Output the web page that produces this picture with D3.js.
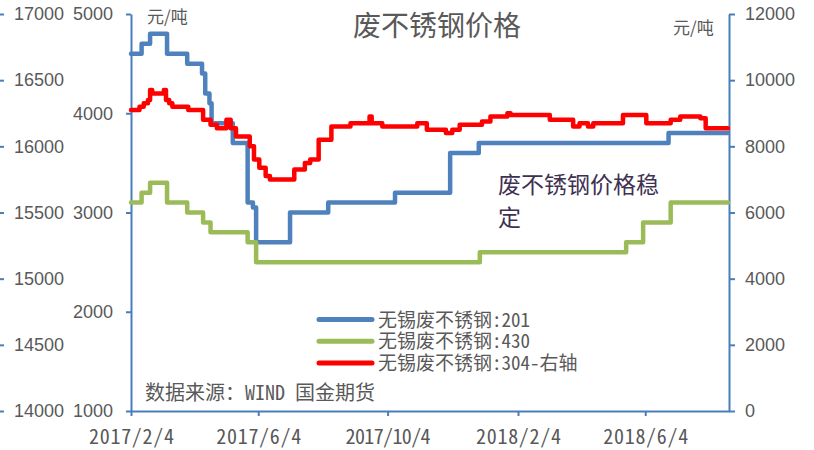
<!DOCTYPE html>
<html>
<head>
<meta charset="utf-8">
<script src="https://cdn.jsdelivr.net/npm/d3@7"></script>
<style>
  body { margin:0; background:#fff; }
  svg { display:block; }
</style>
</head>
<body>
<svg width="814" height="450"></svg>
<script>
// scrap stainless prices, Wuxi (yuan/ton)
const s201 = [
  ["2017/2/4",4600],["2017/2/14",4700],["2017/2/22",4800],["2017/3/10",4600],
  ["2017/3/29",4500],["2017/4/12",4400],["2017/4/15",4200],["2017/4/19",4100],
  ["2017/4/21",3900],["2017/5/11",3700],["2017/5/25",3100],["2017/5/30",3050],
  ["2017/6/2",2700],["2017/7/4",3000],["2017/8/9",3100],["2017/10/11",3200],
  ["2017/12/2",3600],["2017/12/29",3700],["2018/6/26",3800],["2018/8/21",3800]
];
const s430 = [
  ["2017/2/4",3100],["2017/2/14",3200],["2017/2/22",3300],["2017/3/10",3100],
  ["2017/3/29",3000],["2017/4/13",2900],["2017/4/20",2800],["2017/5/25",2700],
  ["2017/6/2",2500],["2017/12/30",2600],["2018/5/17",2700],["2018/6/2",2900],
  ["2018/6/28",3100],["2018/8/21",3100]
];
const s304 = [ // right axis
  ["2017/2/4",9100],["2017/2/12",9200],["2017/2/16",9300],["2017/2/20",9400],
  ["2017/2/22",9700],["2017/2/24",9600],["2017/3/7",9700],["2017/3/9",9400],
  ["2017/3/12",9300],["2017/3/15",9200],["2017/3/30",9100],["2017/4/13",8800],
  ["2017/4/20",8650],["2017/4/26",8550],["2017/5/5",8800],["2017/5/9",8550],
  ["2017/5/14",8300],["2017/5/27",8000],["2017/5/31",7600],["2017/6/5",7350],
  ["2017/6/11",7100],["2017/6/15",7000],["2017/7/8",7300],["2017/7/18",7500],
  ["2017/7/23",7600],["2017/7/31",8200],["2017/8/12",8600],["2017/8/30",8700],
  ["2017/9/17",8900],["2017/9/19",8700],["2017/9/29",8600],["2017/11/1",8700],
  ["2017/11/10",8500],["2017/11/28",8400],["2017/12/4",8500],["2017/12/11",8650],
  ["2018/1/1",8750],["2018/1/9",8900],["2018/1/25",9000],["2018/1/28",8950],
  ["2018/3/6",8800],["2018/3/28",8600],["2018/4/3",8700],["2018/4/11",8600],
  ["2018/4/16",8700],["2018/5/14",8950],["2018/6/5",8700],["2018/6/28",8800],
  ["2018/7/7",8900],["2018/7/26",8850],["2018/7/31",8550],["2018/8/21",8550]
];

const xTicks = ["2017/2/4","2017/6/4","2017/10/4","2018/2/4","2018/6/4"];
const xDomain = ["2017/2/4","2018/8/22"];
const outerTicks = [14000,14500,15000,15500,16000,16500,17000];
const leftTicks = [1000,2000,3000,4000,5000];
const rightTicks = [0,2000,4000,6000,8000,10000,12000];

const legendNames = ["无锡废不锈钢:201","无锡废不锈钢:430","无锡废不锈钢:304-右轴"];
const colors = ["#4F81BD","#9BBB59","#FF0000"];

const parse = d3.timeParse("%Y/%m/%d");
const axisColor = "#4A7EBB", textColor = "#595959";
const cjk = '"Noto Sans CJK SC", "Noto Sans", sans-serif';
const mono = '"Noto Sans Mono CJK SC", "Noto Sans CJK SC", sans-serif';
const latin = "'Liberation Sans', Arial, sans-serif";

const svg = d3.select("svg");
const yTop = 14, yBot = 411, xLeft = 131, xRight = 729;

const x = d3.scaleTime().domain(xDomain.map(parse)).range([xLeft, xRight]);
const yOuter = d3.scaleLinear().domain([14000,17000]).range([yBot, yTop]);
const yL = d3.scaleLinear().domain([1000,5000]).range([yBot, yTop]);
const yR = d3.scaleLinear().domain([0,12000]).range([yBot, yTop]);

function styleAxis(g){
  g.selectAll("path,line").attr("stroke", axisColor).attr("stroke-width", 2);
  g.selectAll("text").attr("fill", textColor);
}

// outer left axis (ticks only, no series on it)
svg.append("g")
  .call(d3.axisRight(yOuter).tickValues(outerTicks).tickFormat(d3.format("d")).tickSize(4).tickSizeOuter(0))
  .call(g => g.select(".domain").remove())
  .call(styleAxis)
  .call(g => g.selectAll("text").attr("x", 64).attr("text-anchor","end")
    .attr("font-family",latin).attr("font-size",18));

// inner left axis
svg.append("g").attr("transform",`translate(${xLeft},0)`)
  .call(d3.axisLeft(yL).tickValues(leftTicks).tickFormat(d3.format("d")).tickSize(5).tickPadding(13).tickSizeOuter(0))
  .call(styleAxis)
  .call(g => g.selectAll("text").attr("font-family",latin).attr("font-size",18));

// right axis
svg.append("g").attr("transform",`translate(${xRight},0)`)
  .call(d3.axisRight(yR).tickValues(rightTicks).tickFormat(d3.format("d")).tickSize(6).tickPadding(10).tickSizeOuter(0))
  .call(styleAxis)
  .call(g => g.selectAll("text").attr("font-family",latin).attr("font-size",18));

// x axis
svg.append("g").attr("transform",`translate(0,${yBot})`)
  .call(d3.axisBottom(x).tickValues(xTicks.map(parse)).tickFormat(d3.timeFormat("%Y/%-m/%-d"))
    .tickSize(5).tickSizeOuter(0))
  .call(styleAxis)
  .call(g => g.selectAll("text").attr("y", 33).attr("dy", 0)
    .attr("font-family", mono).attr("font-size", 20).attr("textLength", 85));

// series
const series = [
  {data:s201, y:yL}, {data:s430, y:yL}, {data:s304, y:yR}
];
series.forEach((s, i) => {
  const line = d3.line().curve(d3.curveStepAfter)
    .x(d => x(parse(d[0]))).y(d => s.y(d[1]));
  svg.append("path").datum(s.data)
    .attr("d", line).attr("fill","none")
    .attr("stroke", colors[i]).attr("stroke-width", 4.5)
    .attr("stroke-linejoin","round").attr("stroke-linecap","round");
});

// title and units
svg.append("text").attr("x",437).attr("y",36).attr("text-anchor","middle")
  .attr("font-family",cjk).attr("font-size",28).attr("fill",textColor).text("废不锈钢价格");
svg.append("text").attr("x",147).attr("y",23)
  .attr("font-family",cjk).attr("font-size",17).attr("fill",textColor).text("元/吨");
svg.append("text").attr("x",673).attr("y",34)
  .attr("font-family",cjk).attr("font-size",17).attr("fill",textColor).text("元/吨");

// annotation
const note = svg.append("text").attr("font-family",cjk).attr("font-size",23).attr("fill","#403152");
note.append("tspan").attr("x",498).attr("y",193).text("废不锈钢价格稳");
note.append("tspan").attr("x",498).attr("y",226).text("定");

// legend
const leg = svg.append("g");
legendNames.forEach((name, i) => {
  const cy = 319.5 + i*21.8;
  leg.append("line").attr("x1",319).attr("x2",372).attr("y1",cy).attr("y2",cy)
    .attr("stroke",colors[i]).attr("stroke-width",5).attr("stroke-linecap","round");
  leg.append("text").attr("x",378).attr("y",cy+7)
    .attr("font-family",mono).attr("font-size",19).attr("fill",textColor).text(name);
});

// source
svg.append("text").attr("x",145).attr("y",400)
  .attr("font-family",mono).attr("font-size",20).attr("fill",textColor)
  .text("数据来源：WIND 国金期货");
</script>
</body>
</html>
